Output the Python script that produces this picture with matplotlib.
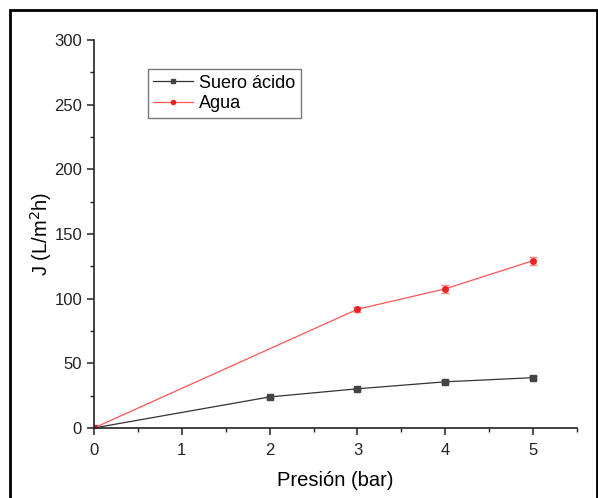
import matplotlib
matplotlib.use("Agg")
import matplotlib.pyplot as plt
from matplotlib.ticker import MultipleLocator
from matplotlib.patches import Rectangle

plt.rcParams['font.family'] = ['Liberation Sans', 'DejaVu Sans']

suero_x = [0, 2, 3, 4, 5]
suero_y = [0, 24, 30.3, 35.7, 38.9]
suero_err = [0, 1.0, 1.0, 1.2, 1.0]
agua_x = [0, 3, 4, 5]
agua_y = [0, 91.8, 107.6, 129.4]
agua_err = [0, 2.0, 3.0, 3.0]

fig = plt.figure(figsize=(5.98, 4.98), dpi=100)
ax = fig.add_axes([0.157, 0.1406, 0.808, 0.7791])

c1 = ax.errorbar(suero_x, suero_y, yerr=suero_err, color='#333333', lw=0.9,
                 marker='s', ms=4, mfc='#444444', mec='#444444',
                 ecolor='#777777', elinewidth=0.8, capsize=3, label='Suero ácido')
c2 = ax.errorbar(agua_x, agua_y, yerr=agua_err, color='#ff5555', lw=0.9,
                 marker='o', ms=4, mfc='#ee2222', mec='#ee2222',
                 ecolor='#ff8888', elinewidth=0.8, capsize=3, label='Agua')

ax.set_xlim(0, 5.5)
ax.set_ylim(0, 300)
ax.xaxis.set_major_locator(MultipleLocator(1))
ax.xaxis.set_minor_locator(MultipleLocator(0.5))
ax.yaxis.set_major_locator(MultipleLocator(50))
ax.yaxis.set_minor_locator(MultipleLocator(25))
ax.spines['top'].set_visible(False)
ax.spines['right'].set_visible(False)
for s in ['left', 'bottom']:
    ax.spines[s].set_linewidth(1.2)
    ax.spines[s].set_color('#222222')
ax.tick_params(which='major', direction='out', length=5, width=1.1,
               labelsize=12, colors='#222222')
ax.tick_params(axis='x', which='major', pad=6)
ax.tick_params(which='minor', direction='out', length=3, width=1.0, colors='#222222')
ax.set_xlabel('Presión (bar)', fontsize=14.5, labelpad=9)
ax.set_ylabel('J (L/m$^{2}$h)', fontsize=14.5, labelpad=0)

leg = ax.legend([c1[0], c2[0]], ['Suero ácido', 'Agua'],
                loc='upper left', bbox_to_anchor=(0.112, 0.925), fontsize=13,
                frameon=True, fancybox=False, handlelength=2.2, markerscale=0.75,
                borderpad=0.3, labelspacing=0.2, handletextpad=0.35,
                borderaxespad=0)
leg.get_frame().set_edgecolor('#555555')
leg.get_frame().set_linewidth(1.0)

fig.patches.append(Rectangle((10/598, -0.05), 587/598, 1 - 10/498 + 0.05,
                             transform=fig.transFigure, fill=False,
                             edgecolor='black', lw=2))

fig.savefig('out.png', dpi=100)
